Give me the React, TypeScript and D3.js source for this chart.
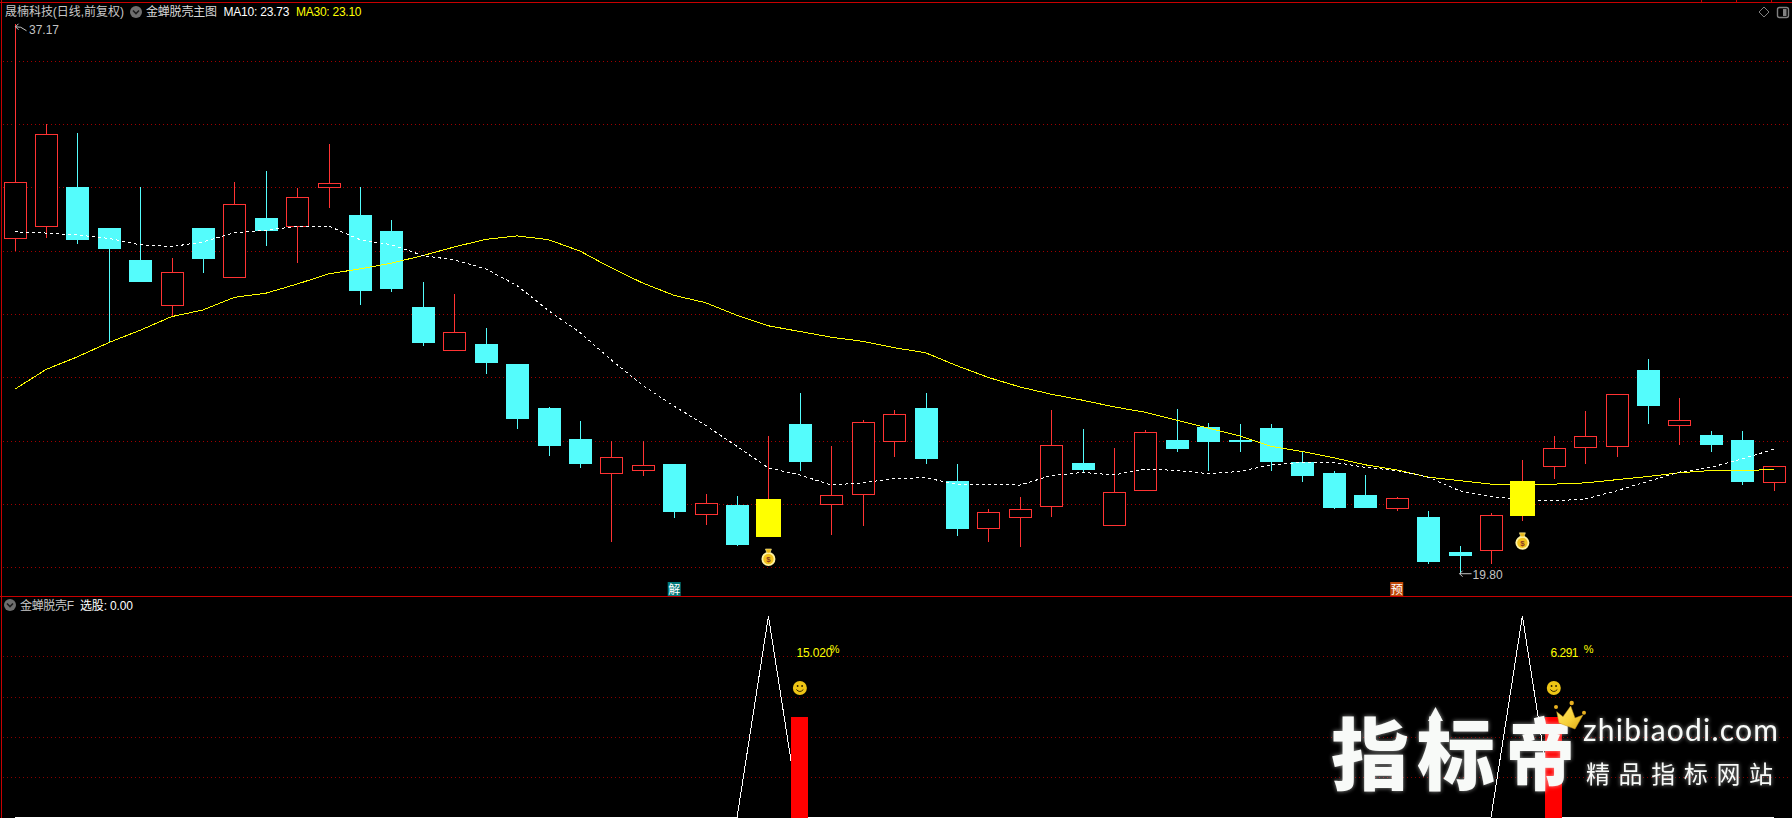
import React from "react";
import * as d3 from "d3";

const opens = [30.40,30.78,32.01,30.71,29.72,28.28,30.71,29.20,31.03,30.78,31.99,31.12,30.61,28.23,26.85,27.06,26.42,25.03,24.04,22.97,23.07,23.25,21.67,21.98,20.96,24.52,21.99,22.34,23.99,25.03,22.74,21.26,21.58,21.93,23.31,21.35,22.47,24.01,24.42,24.01,24.39,23.34,22.99,22.30,21.86,21.60,20.49,20.55,21.63,23.20,23.80,23.86,26.23,24.50,24.17,24.01,22.69];
const closes = [32.18,33.68,30.33,30.04,29.03,29.33,29.72,31.49,30.62,31.71,32.13,28.73,28.77,27.09,27.43,26.46,24.68,23.82,23.25,23.49,23.24,21.72,22.03,20.71,22.17,23.31,22.29,24.60,24.83,23.41,21.22,21.75,21.84,23.87,23.09,22.38,24.29,23.72,23.95,23.95,23.31,22.90,21.88,21.88,22.19,20.17,20.36,21.66,22.74,23.78,24.16,25.49,25.09,24.67,23.85,22.68,23.21];
const highs = [37.17,34.01,33.72,30.71,32.01,29.76,30.71,32.17,32.52,31.97,33.38,32.01,30.96,29.00,28.65,27.57,26.42,25.06,24.61,23.99,23.98,23.25,22.33,22.25,24.14,25.50,23.82,24.65,24.96,25.50,23.25,21.85,22.23,24.96,24.36,23.76,24.35,24.99,24.55,24.52,24.52,23.69,23.03,22.93,22.23,21.79,20.68,21.72,23.38,24.14,24.93,25.49,26.58,25.34,24.30,24.30,23.21];
const lows = [30.00,30.40,30.20,27.08,29.00,27.92,29.31,29.20,30.14,29.60,31.34,28.30,28.70,26.99,26.85,26.11,24.36,23.53,23.15,20.80,22.90,21.57,21.34,20.68,20.96,23.03,21.03,21.31,23.50,23.28,20.99,20.80,20.65,21.60,22.99,21.35,22.47,23.63,23.06,23.63,23.03,22.71,21.85,21.88,21.79,20.11,19.80,20.11,21.47,22.80,23.25,23.50,24.52,23.85,23.63,22.61,22.42];
const ma10 = [30.60,30.56,30.50,30.39,30.19,30.13,30.28,30.57,30.65,30.77,30.78,30.35,30.19,29.85,29.71,29.43,28.90,28.11,27.42,26.55,25.75,25.09,24.49,23.82,23.14,22.92,22.60,22.67,22.81,22.83,22.63,22.63,22.60,22.90,23.00,22.92,23.11,23.06,22.96,23.03,23.24,23.32,23.32,23.16,23.06,22.85,22.42,22.24,22.13,22.10,22.16,22.42,22.72,23.01,23.16,23.43,23.73];
const ma30 = [25.62,26.25,26.65,27.10,27.49,27.92,28.13,28.53,28.66,28.95,29.27,29.43,29.61,29.85,30.12,30.36,30.47,30.35,29.99,29.46,28.98,28.59,28.36,27.96,27.63,27.45,27.27,27.14,26.94,26.78,26.37,26.00,25.70,25.47,25.28,25.07,24.90,24.65,24.40,24.15,23.82,23.66,23.46,23.24,23.08,22.85,22.74,22.63,22.62,22.63,22.67,22.77,22.87,22.99,23.06,23.05,23.10];
const signalDays = [24, 48];
const reboundDays = [25, 49];
const reboundLevels = [0.5, 0.5];
const reboundLabels = ["15.020", "6.291"];
const priceGrid = [20,22,24,26,28,30,32,34,36];
const indicatorGrid = [0.2,0.4,0.6,0.8];
const topTicks = [1701,1736,1771];

const W = 1792, H = 818;
const UP = "#ff3333", DOWN = "#54fcfc", GRID = "#a00000", RULE = "#c80000", GOLD = "#ffff00";
const CJK = '"Liberation Sans","Noto Sans CJK SC",sans-serif';

const x = d3.scaleLinear().domain([0, 56]).range([14.5, 1773.7]);
const y = d3.scaleLinear().domain([20, 36]).range([567.4, 60.8]);
const yInd = d3.scaleLinear().domain([0, 1]).range([817.5, 616]);

const priceLine = d3.line<number>().x((_, i) => x(i)).y((v) => y(v));
const selection = opens.map((_, i) => (signalDays.includes(i) ? 1 : 0));
const indLine = d3.line<number>().x((_, i) => x(i)).y((v) => yInd(v));

const px = (v: number) => Math.round(v) + 0.5;

function Chevron({ cx, cy }: { cx: number; cy: number }) {
  return (
    <g>
      <circle cx={cx} cy={cy} r={6} fill="#6e6e6e" />
      <path d={`M${cx - 3} ${cy - 1.5}L${cx} ${cy + 1.5}L${cx + 3} ${cy - 1.5}`} stroke="#1c1c1c" strokeWidth={1.6} fill="none" />
    </g>
  );
}

function Bag({ cx, cy }: { cx: number; cy: number }) {
  return (
    <g>
      <circle cx={cx} cy={cy + 2} r={7} fill="#fff2a0" />
      <circle cx={cx} cy={cy + 2} r={5.2} fill="#f2c21c" />
      <path d={`M${cx - 3} ${cy - 8}H${cx + 3}L${cx + 1.5} ${cy - 4}H${cx - 1.5}Z`} fill="#e8b818" stroke="#fff2a0" strokeWidth={0.6} />
      <text x={cx} y={cy + 5} textAnchor="middle" fontSize={8} fontWeight={700} fill="#8a3a20" fontFamily={CJK}>$</text>
    </g>
  );
}

function Smiley({ cx, cy }: { cx: number; cy: number }) {
  return (
    <g>
      <circle cx={cx} cy={cy} r={7} fill="#eec515" />
      <rect x={cx - 3} y={cy - 3} width={1.5} height={2} fill="#3a2a00" />
      <rect x={cx + 1.5} y={cy - 3} width={1.5} height={2} fill="#3a2a00" />
      <path d={`M${cx - 3.5} ${cy + 1.5}Q${cx} ${cy + 5.5} ${cx + 3.5} ${cy + 1.5}`} stroke="#3a2a00" fill="none" strokeWidth={1} />
    </g>
  );
}

function Tag({ i, label, bg }: { i: number; label: string; bg: string }) {
  return (
    <g>
      <rect x={x(i) - 6.5} y={582} width={13} height={14} fill={bg} />
      <text x={x(i)} y={594} textAnchor="middle" fontSize={12} fill="#ffffff" fontFamily='"Noto Sans CJK SC"'>{label}</text>
    </g>
  );
}

function Candle({ i }: { i: number }) {
  const cx = px(x(i));
  const top = y(Math.max(opens[i], closes[i]));
  const bot = y(Math.min(opens[i], closes[i]));
  const signal = signalDays.includes(i);
  const rising = closes[i] >= opens[i];
  const color = rising ? UP : DOWN;
  if (signal) return null;
  const w = 22;
  return (
    <g shapeRendering="crispEdges">
      <line x1={cx} x2={cx} y1={y(highs[i])} y2={y(lows[i])} stroke={color} />
      {rising ? (
        <rect x={cx - w / 2} y={px(top)} width={w} height={Math.max(1, Math.round(bot - top))} fill="#000" stroke={color} />
      ) : (
        <rect x={cx - w / 2 - 0.5} y={Math.round(top)} width={w + 1} height={Math.max(2, Math.round(bot - top))} fill={color} />
      )}
    </g>
  );
}

function SignalCandle({ i }: { i: number }) {
  const cx = px(x(i));
  const top = y(Math.max(opens[i], closes[i]));
  const bot = y(Math.min(opens[i], closes[i]));
  return (
    <g shapeRendering="crispEdges">
      <line x1={cx} x2={cx} y1={y(highs[i])} y2={top} stroke={UP} />
      <line x1={cx} x2={cx} y1={bot} y2={y(lows[i])} stroke={UP} />
      <rect x={cx - 12.5} y={Math.round(top)} width={25} height={Math.round(bot - top)} fill={GOLD} />
    </g>
  );
}

function Crown() {
  return (
    <g>
      <defs>
        <linearGradient id="crownFill" x1="0" y1="0" x2="1" y2="1">
          <stop offset="0" stopColor="#ffe86a" />
          <stop offset="0.55" stopColor="#f7d23a" />
          <stop offset="1" stopColor="#d9a514" />
        </linearGradient>
      </defs>
      <path d="M1556.7 711.7L1563 716.7L1570.7 706L1575 718L1583 715L1575 729L1559 723Z" fill="url(#crownFill)" stroke="#c8961a" strokeWidth={0.5} />
      <circle cx={1556} cy={707} r={2} fill="#e8b020" />
      <circle cx={1571.7} cy={703} r={2.2} fill="#e8b020" />
      <circle cx={1584} cy={712.7} r={2} fill="#e8b020" />
    </g>
  );
}

export default function App() {
  return (
    <svg
      width={W}
      height={H}
      viewBox={`0 0 ${W} ${H}`}
      style={{ position: "fixed", left: 0, top: 0, background: "#000", display: "block" }}
    >
      <defs>
        <filter id="glow" x="-10%" y="-20%" width="120%" height="140%">
          <feGaussianBlur stdDeviation="2" result="b" />
          <feComponentTransfer in="b" result="soft">
            <feFuncA type="linear" slope="0.6" />
          </feComponentTransfer>
          <feMerge>
            <feMergeNode in="soft" />
            <feMergeNode in="SourceGraphic" />
          </feMerge>
        </filter>
      </defs>
      <rect width={W} height={H} fill="#000" />

      {/* frame */}
      <g shapeRendering="crispEdges">
        <line x1={0} x2={W} y1={2.5} y2={2.5} stroke={RULE} />
        {topTicks.map((t) => (
          <line key={t} x1={t + 0.5} x2={t + 0.5} y1={0} y2={2} stroke={RULE} />
        ))}
        <line x1={1.5} x2={1.5} y1={0} y2={H} stroke={RULE} />
        <line x1={0} x2={W} y1={596.5} y2={596.5} stroke={RULE} />
        {priceGrid.map((p) => (
          <line key={p} x1={3} x2={1789} y1={px(y(p))} y2={px(y(p))} stroke={GRID} strokeDasharray="1 3" />
        ))}
        {indicatorGrid.map((v) => (
          <line key={v} x1={3} x2={1789} y1={px(yInd(v))} y2={px(yInd(v))} stroke={GRID} strokeOpacity={0.85} strokeDasharray="1 3" />
        ))}
      </g>

      {/* candles */}
      {opens.map((_, i) => (
        <Candle key={i} i={i} />
      ))}

      {/* moving averages */}
      <path d={priceLine(ma30) ?? ""} fill="none" stroke={GOLD} strokeWidth={1} shapeRendering="crispEdges" />
      <path d={priceLine(ma10) ?? ""} fill="none" stroke="#ffffff" strokeWidth={1} strokeDasharray="3 3" shapeRendering="crispEdges" />

      {signalDays.map((i) => (
        <SignalCandle key={i} i={i} />
      ))}

      {/* marks */}
      {signalDays.map((i) => (
        <Bag key={i} cx={x(i)} cy={y(lows[i]) + 20} />
      ))}
      <Tag i={21} label="解" bg="#007878" />
      <Tag i={44} label="预" bg="#c04808" />

      {/* high / low labels */}
      <g fill="#c4c4c4" fontFamily={CJK} fontSize={12}>
        <path d={`M${x(0) + 1} ${y(37.17) + 3}L${x(0) + 4} ${y(37.17)}M${x(0) + 1} ${y(37.17) + 3}L${x(0) + 4} ${y(37.17) + 6}M${x(0) + 1} ${y(37.17) + 3}Q${x(0) + 6} ${y(37.17) + 2} ${x(0) + 12} ${y(37.17) + 7}`} stroke="#c4c4c4" fill="none" />
        <text x={29} y={y(37.17) + 10}>37.17</text>
        <path d={`M${x(46)} ${y(19.8)}H${x(46) + 12}M${x(46)} ${y(19.8)}l3 -3M${x(46)} ${y(19.8)}l3 3`} stroke="#c4c4c4" fill="none" />
        <text x={x(46) + 13} y={y(19.8) + 5.5}>19.80</text>
      </g>

      {/* header */}
      <g fontFamily={CJK} fontSize={12}>
        <text x={5} y={16} fill="#c8c8c8" textLength={119} lengthAdjust="spacingAndGlyphs">晟楠科技(日线,前复权)</text>
        <Chevron cx={136} cy={12} />
        <text x={146} y={16} fill="#d8d8d8" textLength={71}>金蝉脱壳主图</text>
        <text x={223.5} y={16} fill="#ffffff" textLength={66}>MA10: 23.73</text>
        <text x={296} y={16} fill={GOLD} textLength={65.5}>MA30: 23.10</text>
      </g>
      <g fill="none" stroke="#808080">
        <path d="M1764 7L1769 12L1764 17L1759 12Z" />
        <rect x={1777.5} y={7.5} width={11} height={10} rx={2} strokeWidth={1.4} />
        <rect x={1783} y={9} width={3.5} height={7} fill="#808080" stroke="none" />
      </g>

      {/* lower pane */}
      <Chevron cx={10} cy={605} />
      <g fontFamily={CJK} fontSize={12}>
        <text x={20} y={610} fill="#c8c8c8" textLength={54}>金蝉脱壳F</text>
        <text x={80} y={610} fill="#ffffff" textLength={53}>选股: 0.00</text>
      </g>
      <path d={indLine(selection) ?? ""} fill="none" stroke="#ffffff" strokeWidth={1} shapeRendering="crispEdges" />
      {reboundDays.map((d, k) => (
        <g key={d}>
          <rect x={Math.round(x(d)) - 9} y={yInd(reboundLevels[k])} width={17} height={H - yInd(reboundLevels[k])} fill="#ff0000" shapeRendering="crispEdges" />
          <Smiley cx={x(d)} cy={688} />
          <text x={x(d) - 3.3} y={657} fontSize={12} fill={GOLD} fontFamily={CJK} textLength={k === 0 ? 36 : 28}>{reboundLabels[k]}</text>
          <text x={x(d) + 30} y={653} fontSize={11} fill={GOLD} fontFamily={CJK}>%</text>
        </g>
      ))}

      {/* watermark */}
      <g filter="url(#glow)" fill="#f8faf8" fontFamily='"Noto Sans CJK SC"'>
        <text x={1331} y={784} fontSize={78} fontWeight={900}>指</text>
        <text x={1417} y={784} fontSize={78} fontWeight={900}>标</text>
        <text transform="translate(1506 784) scale(0.88 1)" fontSize={78} fontWeight={900}>帝</text>
        <path d="M1435.5 707L1443 721H1428Z" />
        <text x={1583} y={741} fontSize={30} fontFamily="Lato" fontWeight={400} textLength={195}>zhibiaodi.com</text>
        <text x={1586} y={783} fontSize={24} fontWeight={400} textLength={187}>精品指标网站</text>
      </g>
      <Crown />
    </svg>
  );
}
